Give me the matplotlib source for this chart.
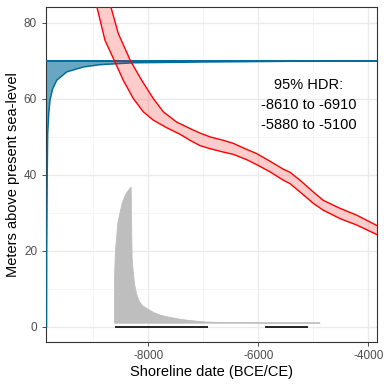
import numpy as np
import matplotlib.pyplot as plt

plt.rcParams['font.family'] = ['Liberation Sans', 'DejaVu Sans']

# site elevation density (drawn sideways from the left edge)
elev = [0, 20, 40, 50.8, 56, 59.6, 62.5, 64.8, 67.0, 68.3, 68.9, 69.4, 69.6, 69.8, 69.9, 70]
elev_dx = [15, 18, 27, 36, 55, 78, 125, 200, 382, 684, 987, 1587, 2800, 4500, 6000, 7300]
site_elev = 70

# displacement curve band
upper_x = [-8714, -8678, -8545, -8320, -8120, -7909, -7727, -7484, -7242, -7060, -6878, -6636,
           -6455, -6211, -6029, -5787, -5546, -5424, -5242, -5000, -4818, -4515, -4211, -3860, -3788]
upper_y = [85.9, 84.0, 77.1, 69.8, 64.8, 60.0, 56.5, 53.8, 52.1, 50.9, 49.9, 49.0,
           48.2, 46.6, 45.5, 43.5, 41.4, 40.6, 38.5, 35.4, 33.2, 31.1, 29.3, 26.7, 26.1]
lower_x = [-8969, -8933, -8787, -8605, -8455, -8273, -8091, -7909, -7665, -7424, -7242, -7060,
           -6878, -6636, -6455, -6211, -6029, -5787, -5546, -5424, -5242, -5000, -4818, -4515,
           -4211, -3860, -3788]
lower_y = [85.9, 84.0, 75.3, 69.6, 64.8, 60.0, 56.5, 54.3, 52.3, 50.6, 49.0, 47.6,
           46.8, 45.9, 45.3, 43.9, 42.6, 40.7, 38.5, 37.6, 35.4, 32.4, 30.6, 28.4,
           26.7, 24.3, 23.8]

# shoreline date probability
date_x = [-8624, -8606, -8588, -8564, -8527, -8485, -8442, -8394, -8345, -8321, -8310, -8303,
          -8285, -8260, -8224, -8182, -8121, -8030, -7909, -7788, -7667, -7424, -7182, -6939,
          -6697, -6300, -5800, -5300, -4890]
date_y = [12.3, 20.2, 22.8, 27.2, 29.8, 32.5, 34.2, 35.5, 36.4, 36.8, 25.0, 18.4,
          14.9, 11.4, 8.8, 7.0, 5.7, 4.8, 3.8, 3.1, 2.7, 2.0, 1.6, 1.3,
          1.2, 1.15, 1.1, 1.1, 1.1]
date_base = 1.0

hdr_start = [-8610, -5880]
hdr_end = [-6910, -5100]
hdr_text = "95% HDR:\n-8610 to -6910\n-5880 to -5100"

xlim = (-9865, -3847)
ylim = (-4, 84)

fig = plt.figure(figsize=(3.84, 3.84), dpi=100)
ax = fig.add_axes([45.7 / 384, 1 - 341.7 / 384, 331 / 384, 334.4 / 384])

# grid like theme_bw
for v in [-9000, -7000, -5000]:
    ax.axvline(v, color='#F2F2F2', lw=0.5, zorder=0)
for v in [10, 30, 50, 70]:
    ax.axhline(v, color='#F2F2F2', lw=0.5, zorder=0)
for v in [-8000, -6000, -4000]:
    ax.axvline(v, color='#EBEBEB', lw=1.0, zorder=0)
for v in [0, 20, 40, 60, 80]:
    ax.axhline(v, color='#EBEBEB', lw=1.0, zorder=0)

# elevation density
ex = xlim[0] + np.array(elev_dx)
ax.fill_betweenx(elev, ex, xlim[0], color='#046C9A', alpha=0.6, lw=0, zorder=2)
ax.plot(ex, elev, color='#046C9A', lw=1.1, zorder=3)
ax.axhline(site_elev, color='#046C9A', lw=1.4, zorder=3)

# displacement band
poly_x = np.concatenate([upper_x, lower_x[::-1]])
poly_y = np.concatenate([upper_y, lower_y[::-1]])
ax.fill(poly_x, poly_y, color='red', alpha=0.2, lw=0, zorder=4)
ax.plot(upper_x, upper_y, color='red', lw=1.0, zorder=5)
ax.plot(lower_x, lower_y, color='red', lw=1.0, zorder=5)

# date distribution
ax.fill_between(date_x, date_base, date_y, color='#BEBEBE', lw=0.6, edgecolor='#BEBEBE', zorder=2)

# HDR segments
for s, e in zip(hdr_start, hdr_end):
    ax.plot([s, e], [0, 0], color='black', lw=1.2, solid_capstyle='butt', zorder=6)

ax.text(-5080, 58.2, hdr_text, ha='center', va='center', fontsize=10.5, linespacing=1.55, zorder=7)

ax.set_xlim(xlim)
ax.set_ylim(ylim)
ax.set_xticks([-8000, -6000, -4000])
ax.set_xticklabels(['-8000', '-6000', '-4000'])
ax.set_yticks([0, 20, 40, 60, 80])
ax.tick_params(colors='#333333', labelcolor='#4D4D4D', labelsize=8.5, length=2.7, width=0.6)
for sp in ax.spines.values():
    sp.set_color('#333333')
    sp.set_linewidth(0.8)
ax.set_xlabel('Shoreline date (BCE/CE)', fontsize=10.5, labelpad=2)
ax.set_ylabel('Meters above present sea-level', fontsize=10.5, labelpad=3)

fig.savefig('out.png', dpi=100)
